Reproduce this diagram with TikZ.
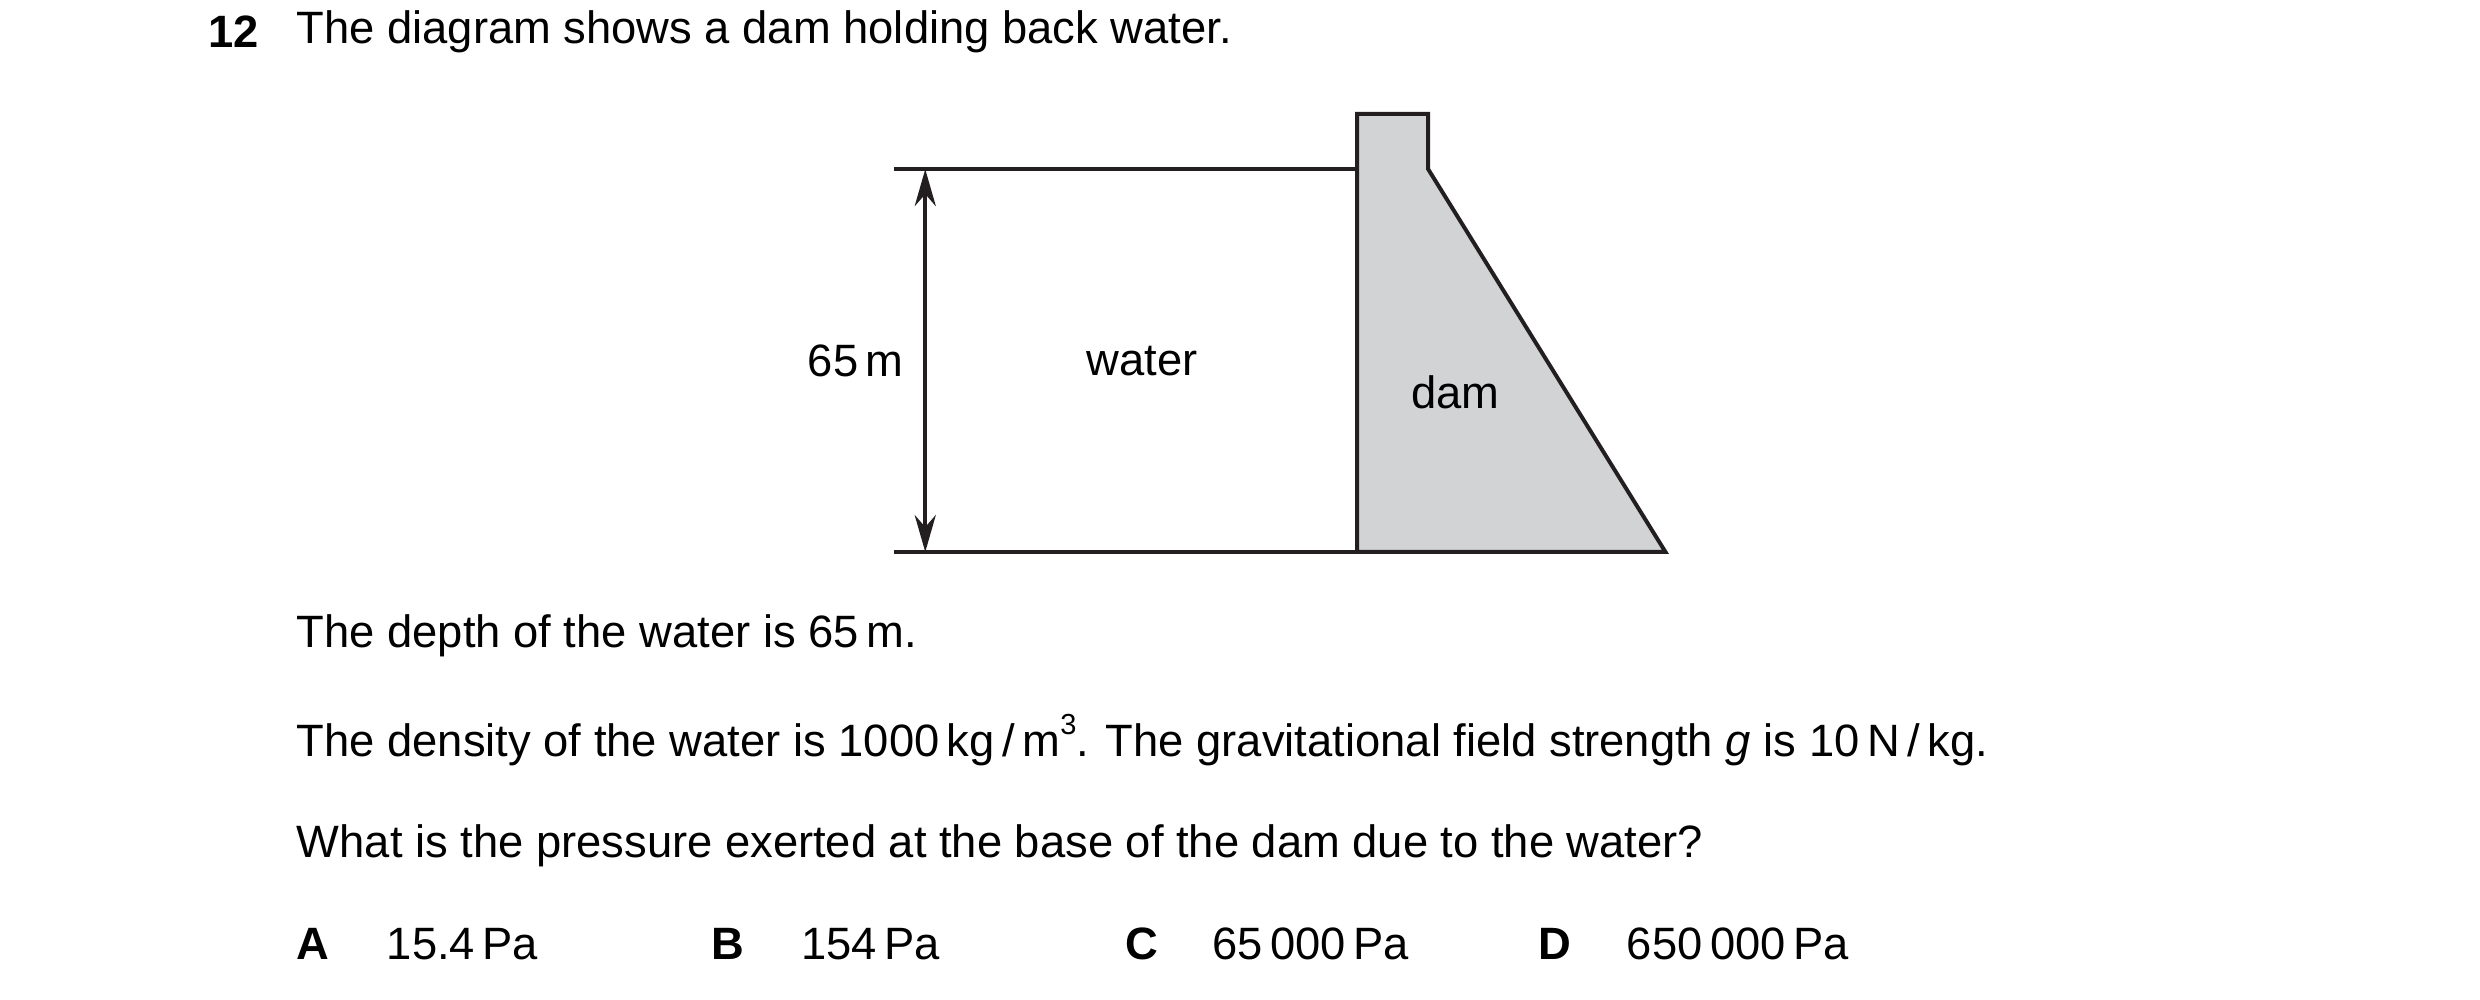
\documentclass[tikz,border=0pt]{standalone}
\usepackage{fontspec}
\setmainfont{Liberation Sans}
\usetikzlibrary{arrows.meta}
\definecolor{damgray}{RGB}{209,211,212}
\begin{document}
\begin{tikzpicture}[x=0.3pt,y=-0.3pt,
  txt/.style={anchor=west,inner sep=0pt,font=\fontsize{8.6pt}{10pt}\selectfont},
  lbl/.style={inner sep=0pt,font=\fontsize{8.6pt}{10pt}\selectfont},
  ln/.style={line width=0.75pt,draw={rgb,255:red,35;green,31;blue,32}}]
\useasboundingbox (0,0) rectangle (1568,632);
\node[txt,font=\fontsize{8.6pt}{10pt}\selectfont\bfseries] (num) at (131,20) {12};
\node[txt] (t1) at (187,20) {The diagram shows a dam holding back water.};
% dam
\coordinate (dA) at (858,349); \coordinate (dB) at (858,72);
\coordinate (dC) at (903,72); \coordinate (dD) at (903,107);
\coordinate (dE) at (1053,349);
\draw[ln,fill=damgray,line join=miter] (dA) -- (dB) -- (dC) -- (dD) -- (dE) -- cycle;
\coordinate (wt) at (565,107); \coordinate (wtr) at (858,107);
\coordinate (wb) at (565,349);
\draw[ln] (wt) -- (wtr);
\draw[ln] (wb) -- (dE);
\coordinate (a1) at (585,107); \coordinate (a2) at (585,349);
\draw[ln,{Stealth[length=7pt,width=4pt]}-{Stealth[length=7pt,width=4pt]}] (a1) -- (a2);
\node[lbl,anchor=east] (h) at (572,228) {65\,m};
\node[lbl] (w) at (722,228) {water};
\node[lbl] (d) at (920,248) {dam};
\node[txt] (t2) at (187,402) {The depth of the water is 65\,m.};
\node[txt] (t3) at (187,468) {The density of the water is 1000\,kg\,/\,m\raisebox{0.9ex}{\fontsize{5.5pt}{6pt}\selectfont 3}. The gravitational field strength \textit{g} is 10\,N\,/\,kg.};
\node[txt] (t4) at (187,535) {What is the pressure exerted at the base of the dam due to the water?};
\node[txt,font=\fontsize{8.6pt}{10pt}\selectfont\bfseries] (oA) at (187,597) {A};
\node[txt] (vA) at (244,597) {15.4\,Pa};
\node[txt,font=\fontsize{8.6pt}{10pt}\selectfont\bfseries] (oB) at (449,597) {B};
\node[txt] (vB) at (506,597) {154\,Pa};
\node[txt,font=\fontsize{8.6pt}{10pt}\selectfont\bfseries] (oC) at (711,597) {C};
\node[txt] (vC) at (766,597) {65\,000\,Pa};
\node[txt,font=\fontsize{8.6pt}{10pt}\selectfont\bfseries] (oD) at (972,597) {D};
\node[txt] (vD) at (1028,597) {650\,000\,Pa};
\end{tikzpicture}
\end{document}
